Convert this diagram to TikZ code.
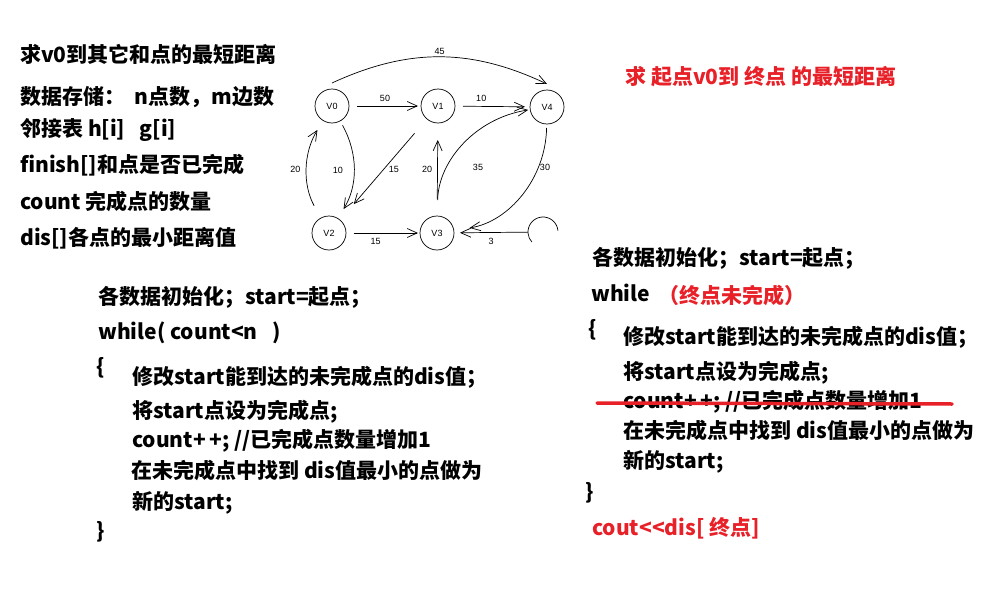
\documentclass[tikz,border=0pt]{standalone}
\usepackage{fontspec}
\setmainfont{Noto Sans CJK SC}
\newfontfamily\graphfont{Liberation Sans}
\usetikzlibrary{arrows.meta}
\definecolor{notered}{RGB}{232,32,40}
\tikzset{
  line/.style={anchor=west, inner sep=0pt, font=\bfseries\fontsize{21}{24}\selectfont},
  redline/.style={line, text=notered},
  vtx/.style={circle, draw, line width=0.7pt, minimum size=34pt, inner sep=0pt, outer sep=0pt,
    font=\graphfont\fontsize{9}{10}\selectfont},
  arr/.style={-{Straight Barb[length=10pt,width=9pt]}, line width=0.7pt, shorten <=8pt, shorten >=3pt},
  wt/.style={font=\graphfont\fontsize{9}{10}\selectfont, inner sep=1pt},
}
\begin{document}
\begin{tikzpicture}[x=1pt, y=-1pt]
\useasboundingbox (0,0) rectangle (989,597);

% notes on the left
\node[line] (goal) at (20,54) {求v0到其它和点的最短距离};
\node[line] (store) at (20,97) {数据存储：\ \ n点数，m边数};
\node[line] (adj) at (20,130) {邻接表 h[i]\ \ \ g[i]};
\node[line] (fin) at (20,165) {finish[]和点是否已完成};
\node[line] (cnt) at (20,201) {count 完成点的数量};
\node[line] (dis) at (20,238) {dis[]各点的最小距离值};

\node[redline] (aim) at (625,77) {求 起点v0到 终点 的最短距离};

% the graph
\node[vtx] (V0) at (332,106) {V0};
\node[vtx] (V1) at (438,106) {V1};
\node[vtx] (V4) at (547,107) {V4};
\node[vtx] (V2) at (329,233) {V2};
\node[vtx] (V3) at (437,233) {V3};
\node[circle, minimum size=30pt, inner sep=0pt, outer sep=0pt] (V5) at (543,232) {};
\draw[line width=0.7pt] (V5.5) arc[start angle=5, end angle=222, radius=15pt];

\draw[arr, shorten <=0pt, shorten >=0pt] ([yshift=6pt]V0.north) to[bend left=25]
  node[wt, above=1pt] (w04) {45} ([yshift=6pt]V4.north);
\draw[arr] (V0) -- node[wt, above=3pt] (w01) {50} (V1);
\draw[arr, shorten >=5pt] (V1) -- node[wt, above=3pt, pos=0.35] (w14) {10} (V4);
\draw[arr, shorten <=5pt, shorten >=11pt] (V0) to[bend left=30]
  node[wt, left=9pt] (w02) {10} (V2);
\draw[arr, shorten <=14pt, shorten >=11pt] (V2) to[bend left=30]
  node[wt, left=6pt] (w20) {20} (V0);
\draw[arr, shorten <=19pt, shorten >=21pt] (V1) -- node[wt, right=4pt] (w12) {15} (V2);
\draw[arr, shorten <=17pt, shorten >=17pt] (V3) -- node[wt, left=4pt] (w31) {20} (V1);
\draw[arr, shorten <=16pt, shorten >=2pt] (V3) to[bend left=40] (V4);
\draw[arr, shorten <=4pt, shorten >=16pt] (V4) to[bend left=40] (V3);
\node[wt] (w34) at (478,167) {35};
\node[wt] (w43) at (545,167) {30};
\draw[arr, shorten >=2pt] (V2) -- node[wt, below=4pt, pos=0.4] (w23) {15} (V3);
\draw[arr, shorten <=0pt, shorten >=6pt] (V5) -- node[wt, below=4pt] (w53) {3} (V3);

% loop over all points
\node[line] (initA) at (98,297) {各数据初始化；start=起点；};
\node[line] (loopA) at (98,333) {while( count<n\ \ \ )};
\node[line] (openA) at (96,368) {\{};
\node[line] (relaxA) at (132,377) {修改start能到达的未完成点的dis值；};
\node[line] (markA) at (132,412) {将start点设为完成点;};
\node[line] (incA) at (132,441) {count+\,+; //已完成点数量增加1};
\node[line] (findA) at (131,470) {在未完成点中找到 dis值最小的点做为};
\node[line] (newA) at (132,503) {新的start;};
\node[line] (closeA) at (96,532) {\}};

% loop until the end point
\node[line] (initB) at (592,258) {各数据初始化；start=起点；};
\node[line] (loopB) at (591,293) {while};
\node[redline] (condB) at (658,295) {（终点未完成）};
\node[line] (openB) at (588,330) {\{};
\node[line] (relaxB) at (623,337) {修改start能到达的未完成点的dis值；};
\node[line] (markB) at (623,373) {将start点设为完成点;};
\node[line] (incB) at (623,402) {count+\,+; //已完成点数量增加1};
\node[line] (findB) at (623,430) {在未完成点中找到 dis值最小的点做为};
\node[line] (newB) at (623,462) {新的start;};
\node[line] (closeB) at (585,493) {\}};
\node[redline] (outB) at (592,528) {cout<{}<dis[ 终点]};
\draw[notered, line width=3.5pt, line cap=round] (597,403) -- (952,404);
\end{tikzpicture}
\end{document}
